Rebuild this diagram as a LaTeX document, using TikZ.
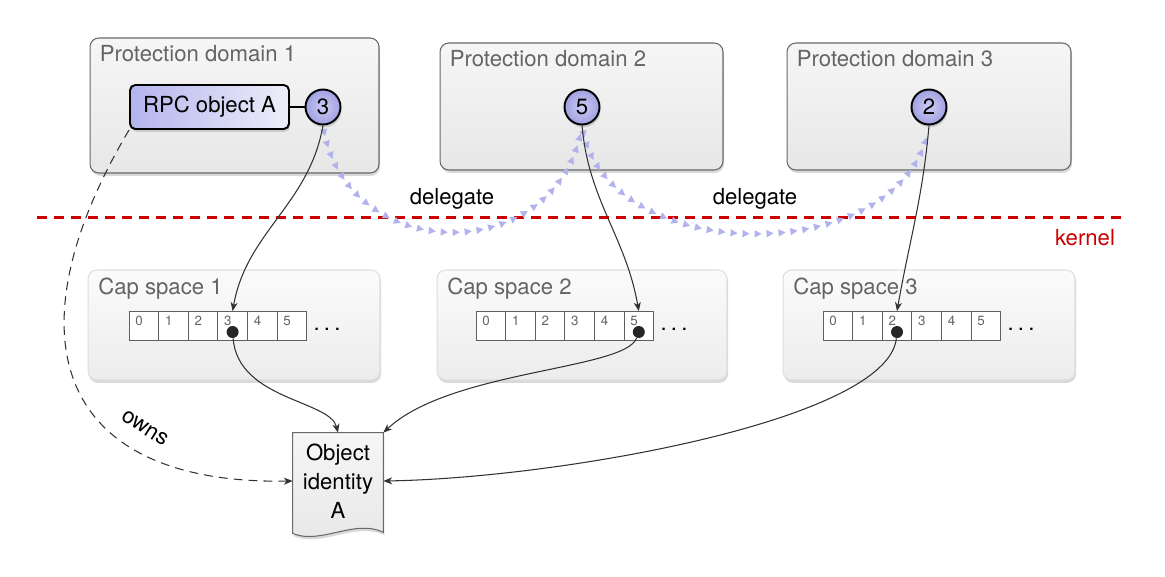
\documentclass[tikz,border=0pt]{standalone}
\usepackage{fontspec}
\setmainfont{TeX Gyre Heros}
\usetikzlibrary{arrows.meta, calc, shadows, decorations.markings, backgrounds}

\definecolor{boxborder}{RGB}{105,105,105}
\definecolor{boxtop}{RGB}{246,246,246}
\definecolor{boxbottom}{RGB}{231,231,231}
\definecolor{capborder}{RGB}{222,222,222}
\definecolor{captop}{RGB}{251,251,251}
\definecolor{capbottom}{RGB}{236,236,236}
\definecolor{titlegray}{RGB}{100,100,100}
\definecolor{cellborder}{RGB}{95,95,95}
\definecolor{slotinner}{RGB}{205,205,245}
\definecolor{slotouter}{RGB}{160,160,225}
\definecolor{rpcleft}{RGB}{180,180,238}
\definecolor{rpcright}{RGB}{238,238,250}
\definecolor{delegatecolor}{RGB}{178,178,236}
\definecolor{kernelred}{RGB}{204,0,0}
\definecolor{linegray}{RGB}{50,50,50}

\tikzset{
  softshadow/.style={drop shadow={shadow xshift=0.6pt, shadow yshift=-1.6pt, opacity=0.25, fill=black!60}},
  domainbox/.style={draw=boxborder, line width=0.6pt, rounded corners=5pt, top color=boxtop, bottom color=boxbottom, softshadow},
  capbox/.style={draw=capborder, line width=0.6pt, rounded corners=5pt, top color=captop, bottom color=capbottom, softshadow},
  boxtitle/.style={text=titlegray, anchor=base west, inner sep=0pt},
  capcell/.style={draw=cellborder, fill=white, line width=0.5pt, minimum width=0.592cm, minimum height=0.58cm, inner sep=0pt},
  cellnum/.style={text=titlegray, anchor=north west, inner sep=0pt, font=\fontsize{7.6}{8}\selectfont},
  capdot/.style={circle, fill=black!85, minimum size=0.24cm, inner sep=0pt},
  capslot/.style={circle, draw=black, line width=1.1pt, inner color=slotinner, outer color=slotouter, minimum size=0.7cm, inner sep=0pt, softshadow},
  rpcbox/.style={draw=black, line width=1.1pt, rounded corners=3pt, left color=rpcleft, right color=rpcright, inner sep=0pt, softshadow},
  docnode/.style={minimum width=1.8cm, minimum height=1.92cm, align=center, inner sep=0pt},
  docshape/.style={draw=boxborder, line width=0.6pt, top color=boxtop, bottom color=boxbottom, softshadow},
  capref/.style={draw=linegray, line width=0.6pt, -{Stealth[length=5pt, width=4pt, inset=1.5pt]}},
  ownsline/.style={capref, dash pattern=on 5pt off 3.5pt},
  kernelline/.style={draw=kernelred, line width=1.7pt, dash pattern=on 5.7pt off 4pt},
  delegation/.style={decoration={markings, mark=between positions 0.02 and 0.98 step 0.24cm with {\fill[delegatecolor] (2pt,0) -- (-2pt,2.1pt) -- (-2pt,-2.1pt) -- cycle;}}, postaction={decorate}}
}

\begin{document}
\begin{tikzpicture}[x=0.02cm, y=-0.02cm, font=\fontsize{12.6}{16.4}\selectfont]
  \useasboundingbox (0,0) rectangle (1165,576);

  % Protection domains
  \node[domainbox, minimum width=5.78cm, minimum height=2.7cm] (pd1) at (234.5,105.5) {};
  \node[domainbox, minimum width=5.66cm, minimum height=2.54cm] (pd2) at (581.5,106.5) {};
  \node[domainbox, minimum width=5.68cm, minimum height=2.54cm] (pd3) at (929,106.5) {};
  \foreach \d in {1,2,3}
    \node[boxtitle] (pd\d title) at ($(pd\d.north west)+(10,24.5)$) {Protection domain \d};

  % Cap spaces
  \foreach \s/\cx/\w in {1/234/5.84, 2/582/5.8, 3/929/5.84} {
    \node[capbox, minimum width=\w cm, minimum height=2.2cm] (cs\s) at (\cx,325) {};
    \node[boxtitle] (cs\s title) at ($(cs\s.north west)+(10.5,25)$) {Cap space \s};
  }

  % Kernel boundary
  \coordinate (kleft) at (37,217);
  \coordinate (kright) at (1125,217);
  \draw[kernelline] (kleft) -- (kright);
  \node[text=kernelred, anchor=base] (kernel) at (1085,245) {kernel};

  % Capability tables
  \foreach \s/\xs in {1/129,2/476,3/823} {
    \foreach \i in {0,...,5} {
      \node[capcell] (cs\s-\i) at ({\xs+14.8+29.6*\i},326) {};
      \node[cellnum] (cs\s-\i-num) at ($(cs\s-\i.north west)+(6.5,4.5)$) {\i};
    }
    \node[anchor=base] (cs\s dots) at ({\xs+198},330) {.\kern2.4pt.\kern2.4pt.};
  }
  \node[capdot] (cs1pt) at ($(cs1-3.center)+(0,6)$) {};
  \node[capdot] (cs2pt) at ($(cs2-5.center)+(0,6)$) {};
  \node[capdot] (cs3pt) at ($(cs3-2.center)+(0,6)$) {};

  % Objects and capability slots
  \node[rpcbox, minimum width=3.18cm, minimum height=0.88cm] (rpc) at (209.5,107) {RPC object A};
  \node[capslot] (pd1cap) at (323,107) {3};
  \node[capslot] (pd2cap) at (582,107) {5};
  \node[capslot] (pd3cap) at (929,107) {2};
  \draw[line width=1.5pt] (rpc) -- (pd1cap);

  % Object identity
  \node[docnode] (obj) at (338,481) {Object\\identity\\A};
  \begin{scope}[on background layer]
    \path[docshape] (obj.north west) -- (obj.north east) -- ($(obj.south east)+(0,3)$)
      .. controls ($(obj.south east)+(-28,-11)$) and ($(obj.south west)+(27,16)$) .. ($(obj.south west)+(0,4)$) -- cycle;
  \end{scope}

  % Delegation
  \path[delegation] (pd1cap.south) .. controls (345,268) and (560,268) .. (pd2cap.south);
  \path[delegation] (pd2cap.south) .. controls (604,270) and (907,270) .. (pd3cap.south);
  \node (del1) at (452,199) {delegate};
  \node (del2) at (755,199) {delegate};

  % References
  \draw[capref] (pd1cap.south) to[out=-100, in=80] (cs1-3.north);
  \draw[capref] (pd2cap.south) to[out=-85, in=100] (cs2-5.north);
  \draw[capref] (pd3cap.south) to[out=-95, in=80] (cs3-2.north);
  \draw[capref] (cs1pt) .. controls (238,400) and (330,400) .. (obj.north);
  \draw[capref] (cs2pt) .. controls (625,370) and (450,370) .. (obj.north east);
  \draw[capref] (cs3pt) .. controls (888,420) and (560,478) .. (obj.east);
  \draw[ownsline] (rpc.south west) .. controls (10,330) and (50,485) .. (obj.west);
  \node[rotate=-32] (owns) at (145,428) {owns};
\end{tikzpicture}
\end{document}
